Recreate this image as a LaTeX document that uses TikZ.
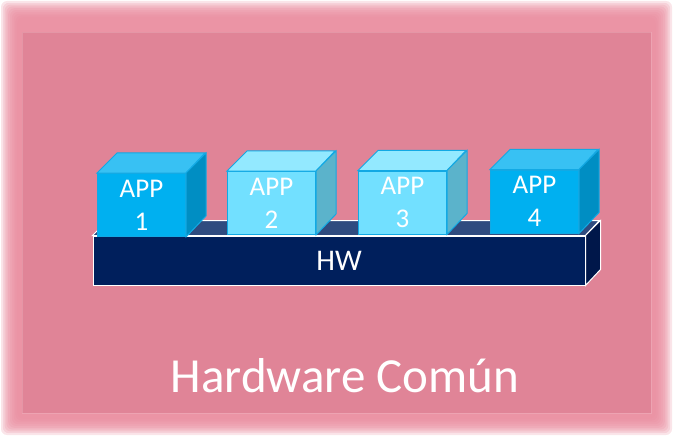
\documentclass[tikz,border=0pt]{standalone}
\usepackage{fontspec}
\setmainfont{Carlito}
\definecolor{pinkbg}{HTML}{E08497}
\definecolor{pinkedge}{HTML}{E98A9D}
\definecolor{hwfront}{HTML}{001F5C}
\definecolor{hwtop}{HTML}{2F4B7F}
\definecolor{hwside}{HTML}{00174A}
\definecolor{darkfront}{HTML}{00B0F0}
\definecolor{darktop}{HTML}{38C1F3}
\definecolor{darkside}{HTML}{008EC3}
\definecolor{lightfront}{HTML}{72E0FF}
\definecolor{lighttop}{HTML}{93E9FF}
\definecolor{lightside}{HTML}{5BB3CB}
\definecolor{appline}{HTML}{12A9E4}
\tikzset{
	appface/.style={draw=appline, line width=1pt, minimum width=88pt, minimum height=63pt,
		inner sep=0pt, text=white, align=center, font=\fontsize{27}{33}\selectfont},
	hwface/.style={draw=white, line width=1pt, fill=hwfront, minimum width=492pt,
		minimum height=49pt, inner sep=0pt, text=white, font=\fontsize{30}{36}\selectfont},
}
\begin{document}
\begin{tikzpicture}[x=1pt, y=-1pt]
	\useasboundingbox (0,0) rectangle (673,436);
	% soft pink glow
	\foreach \i in {0,...,9}
		\fill[pinkedge, opacity=0.22, rounded corners=6pt] (1+1.8*\i,1+1.8*\i) rectangle (672-1.8*\i,435-1.8*\i);
	\fill[pinkbg] (22,32) rectangle (651,413);
	\draw[white, opacity=0.15] (22,32) rectangle (651,413);

	% HW bar
	\node[hwface] (hw) at (339,260.5) {HW};
	\draw[white, line width=1pt, fill=hwtop] (hw.north west) -- ++(15,-15) -- ++(492,0) -- (hw.north east) -- cycle;
	\draw[white, line width=1pt, fill=hwside] (hw.north east) -- ++(15,-15) -- ++(0,49) -- (hw.south east) -- cycle;

	% applications
	\node[appface, fill=darkfront]  (app1) at (141.5,205)   {APP\\1};
	\node[appface, fill=lightfront] (app2) at (271.5,203)   {APP\\2};
	\node[appface, fill=lightfront] (app3) at (402.5,202.5) {APP\\3};
	\node[appface, fill=darkfront]  (app4) at (534.5,201.5) {APP\\4};

	\foreach \a/\t/\s in {app1/darktop/darkside, app2/lighttop/lightside, app3/lighttop/lightside, app4/darktop/darkside} {
		\draw[appline, line width=1pt, fill=\t] (\a.north west) -- ++(20,-20) -- ++(88,0) -- (\a.north east) -- cycle;
		\draw[appline, line width=1pt, fill=\s] (\a.north east) -- ++(20,-20) -- ++(0,63) -- (\a.south east) -- cycle;
	}

	\node[text=white, font=\fontsize{49}{58}\selectfont, anchor=base] (title) at (345,392) {Hardware Común};
\end{tikzpicture}
\end{document}
